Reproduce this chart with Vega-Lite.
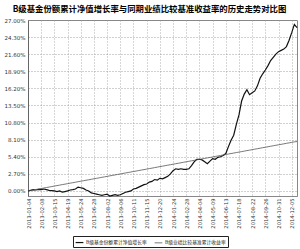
{
  "$schema": "https://vega.github.io/schema/vega-lite/v6.json",
  "width": 269,
  "height": 176,
  "autosize": {"type": "none"},
  "padding": {"left": 28, "top": 20, "right": 3, "bottom": 53},
  "background": "white",
  "title": {
    "text": "B级基金份额累计净值增长率与同期业绩比较基准收益率的历史走势对比图",
    "font": "Noto Sans CJK SC",
    "fontSize": 8.4,
    "fontWeight": "bold",
    "color": "#000",
    "anchor": "middle",
    "frame": "group",
    "dx": -13,
    "offset": 5
  },
  "config": {
    "view": {"stroke": "#888", "strokeWidth": 1},
    "axis": {"labelFont": "DejaVu Sans", "labelColor": "#333", "domainColor": "#666"}
  },
  "data": {
    "values": [
      {"d":"2013-01-04","fund":0.0,"bench":0.0},
      {"d":"2013-01-11","fund":0.1,"bench":0.08},
      {"d":"2013-01-18","fund":0.2,"bench":0.15},
      {"d":"2013-01-25","fund":0.15,"bench":0.23},
      {"d":"2013-02-01","fund":0.25,"bench":0.31},
      {"d":"2013-02-08","fund":0.2,"bench":0.38},
      {"d":"2013-02-15","fund":0.3,"bench":0.46},
      {"d":"2013-02-22","fund":0.2,"bench":0.54},
      {"d":"2013-03-01","fund":0.1,"bench":0.61},
      {"d":"2013-03-08","fund":0.05,"bench":0.69},
      {"d":"2013-03-15","fund":0.0,"bench":0.77},
      {"d":"2013-03-22","fund":-0.1,"bench":0.84},
      {"d":"2013-03-29","fund":0.0,"bench":0.92},
      {"d":"2013-04-05","fund":-0.2,"bench":1.0},
      {"d":"2013-04-12","fund":-0.1,"bench":1.07},
      {"d":"2013-04-19","fund":0.0,"bench":1.15},
      {"d":"2013-04-26","fund":0.15,"bench":1.23},
      {"d":"2013-05-03","fund":0.2,"bench":1.3},
      {"d":"2013-05-10","fund":0.3,"bench":1.38},
      {"d":"2013-05-17","fund":0.6,"bench":1.46},
      {"d":"2013-05-24","fund":0.5,"bench":1.53},
      {"d":"2013-05-31","fund":0.4,"bench":1.61},
      {"d":"2013-06-07","fund":0.15,"bench":1.69},
      {"d":"2013-06-14","fund":0.0,"bench":1.76},
      {"d":"2013-06-21","fund":-0.3,"bench":1.84},
      {"d":"2013-06-28","fund":-0.4,"bench":1.92},
      {"d":"2013-07-05","fund":-0.5,"bench":1.99},
      {"d":"2013-07-12","fund":-0.6,"bench":2.07},
      {"d":"2013-07-19","fund":-0.7,"bench":2.15},
      {"d":"2013-07-26","fund":-0.6,"bench":2.22},
      {"d":"2013-08-02","fund":-0.5,"bench":2.3},
      {"d":"2013-08-09","fund":-0.8,"bench":2.38},
      {"d":"2013-08-16","fund":-0.7,"bench":2.45},
      {"d":"2013-08-23","fund":-0.6,"bench":2.53},
      {"d":"2013-08-30","fund":-0.7,"bench":2.61},
      {"d":"2013-09-06","fund":-0.6,"bench":2.68},
      {"d":"2013-09-13","fund":-0.4,"bench":2.76},
      {"d":"2013-09-20","fund":-0.2,"bench":2.84},
      {"d":"2013-09-27","fund":-0.1,"bench":2.91},
      {"d":"2013-10-04","fund":0.0,"bench":2.99},
      {"d":"2013-10-11","fund":0.3,"bench":3.07},
      {"d":"2013-10-18","fund":0.4,"bench":3.14},
      {"d":"2013-10-25","fund":0.6,"bench":3.22},
      {"d":"2013-11-01","fund":0.8,"bench":3.3},
      {"d":"2013-11-08","fund":1.0,"bench":3.37},
      {"d":"2013-11-15","fund":1.1,"bench":3.45},
      {"d":"2013-11-22","fund":1.4,"bench":3.53},
      {"d":"2013-11-29","fund":1.5,"bench":3.6},
      {"d":"2013-12-06","fund":1.8,"bench":3.68},
      {"d":"2013-12-13","fund":1.7,"bench":3.76},
      {"d":"2013-12-20","fund":2.0,"bench":3.84},
      {"d":"2013-12-27","fund":1.9,"bench":3.91},
      {"d":"2014-01-03","fund":2.1,"bench":3.99},
      {"d":"2014-01-10","fund":2.3,"bench":4.07},
      {"d":"2014-01-17","fund":2.7,"bench":4.14},
      {"d":"2014-01-24","fund":3.2,"bench":4.22},
      {"d":"2014-01-31","fund":3.5,"bench":4.3},
      {"d":"2014-02-07","fund":3.4,"bench":4.37},
      {"d":"2014-02-14","fund":3.5,"bench":4.45},
      {"d":"2014-02-21","fund":3.4,"bench":4.53},
      {"d":"2014-02-28","fund":3.4,"bench":4.6},
      {"d":"2014-03-07","fund":3.5,"bench":4.68},
      {"d":"2014-03-14","fund":4.0,"bench":4.76},
      {"d":"2014-03-21","fund":4.6,"bench":4.83},
      {"d":"2014-03-28","fund":5.0,"bench":4.91},
      {"d":"2014-04-04","fund":5.0,"bench":4.99},
      {"d":"2014-04-11","fund":4.9,"bench":5.06},
      {"d":"2014-04-18","fund":4.6,"bench":5.14},
      {"d":"2014-04-25","fund":4.3,"bench":5.22},
      {"d":"2014-05-02","fund":4.7,"bench":5.29},
      {"d":"2014-05-09","fund":5.1,"bench":5.37},
      {"d":"2014-05-16","fund":5.0,"bench":5.45},
      {"d":"2014-05-23","fund":5.3,"bench":5.52},
      {"d":"2014-05-30","fund":5.4,"bench":5.6},
      {"d":"2014-06-06","fund":5.6,"bench":5.68},
      {"d":"2014-06-13","fund":5.9,"bench":5.75},
      {"d":"2014-06-20","fund":7.0,"bench":5.83},
      {"d":"2014-06-27","fund":8.0,"bench":5.91},
      {"d":"2014-07-04","fund":8.8,"bench":5.98},
      {"d":"2014-07-11","fund":10.5,"bench":6.06},
      {"d":"2014-07-18","fund":12.0,"bench":6.14},
      {"d":"2014-07-25","fund":14.2,"bench":6.21},
      {"d":"2014-08-01","fund":15.3,"bench":6.29},
      {"d":"2014-08-08","fund":16.0,"bench":6.37},
      {"d":"2014-08-15","fund":15.2,"bench":6.44},
      {"d":"2014-08-22","fund":15.5,"bench":6.52},
      {"d":"2014-08-29","fund":15.8,"bench":6.6},
      {"d":"2014-09-05","fund":16.6,"bench":6.67},
      {"d":"2014-09-12","fund":17.8,"bench":6.75},
      {"d":"2014-09-19","fund":18.5,"bench":6.83},
      {"d":"2014-09-26","fund":19.1,"bench":6.9},
      {"d":"2014-10-03","fund":19.8,"bench":6.98},
      {"d":"2014-10-10","fund":20.6,"bench":7.06},
      {"d":"2014-10-17","fund":21.1,"bench":7.13},
      {"d":"2014-10-24","fund":21.6,"bench":7.21},
      {"d":"2014-10-31","fund":22.0,"bench":7.29},
      {"d":"2014-11-07","fund":22.2,"bench":7.36},
      {"d":"2014-11-14","fund":22.4,"bench":7.44},
      {"d":"2014-11-21","fund":22.8,"bench":7.52},
      {"d":"2014-11-28","fund":23.8,"bench":7.59},
      {"d":"2014-12-05","fund":25.0,"bench":7.67},
      {"d":"2014-12-12","fund":26.3,"bench":7.75},
      {"d":"2014-12-17","fund":25.8,"bench":7.8}
    ]
  },
  "transform": [{"fold": ["fund", "bench"], "as": ["k", "v"]}],
  "mark": {"type": "line", "interpolate": "linear"},
  "encoding": {
    "x": {
      "field": "d",
      "type": "ordinal",
      "sort": "ascending",
      "scale": {"type": "point", "padding": 0},
      "axis": {
        "title": null,
        "values": ["2013-01-04","2013-02-08","2013-03-15","2013-04-19","2013-05-24","2013-06-28","2013-08-02","2013-09-06","2013-10-11","2013-11-15","2013-12-20","2014-01-24","2014-02-28","2014-04-04","2014-05-09","2014-06-13","2014-07-18","2014-08-22","2014-09-26","2014-10-31","2014-12-05"],
        "labelAngle": -90,
        "labelFontSize": 5.2,
        "labelPadding": 2,
        "ticks": false,
        "domainColor": "#888",
        "grid": true,
        "gridColor": "#999",
        "gridDash": [1, 2],
        "gridWidth": 0.8
      }
    },
    "y": {
      "field": "v",
      "type": "quantitative",
      "scale": {"domain": [-0.8, 27], "nice": false, "zero": false},
      "axis": {
        "title": null,
        "values": [0, 2.7, 5.4, 8.1, 10.8, 13.5, 16.2, 18.9, 21.6, 24.3, 27],
        "labelExpr": "format(datum.value, '.2f') + '%'",
        "labelFontSize": 5.5,
        "labelPadding": 3,
        "ticks": false,
        "domainColor": "#666",
        "grid": true,
        "gridColor": "#888",
        "gridDash": [1, 2],
        "gridWidth": 0.8
      }
    },
    "color": {
      "field": "k",
      "type": "nominal",
      "scale": {"domain": ["fund", "bench"], "range": ["#111111", "#555555"]},
      "legend": {
        "title": null,
        "orient": "none",
        "legendX": 45,
        "legendY": 216,
        "direction": "horizontal",
        "symbolType": "stroke",
        "symbolSize": 60,
        "symbolStrokeWidth": 1.2,
        "labelExpr": "datum.value == 'fund' ? 'B级基金份额累计净值增长率' : 'B级业绩比较基准累计收益率'",
        "labelFont": "Noto Sans CJK SC",
        "labelFontSize": 4.8,
        "labelColor": "#222",
        "columnPadding": 6,
        "padding": 2,
        "strokeColor": "#222",
        "labelOffset": 2
      }
    },
    "strokeWidth": {
      "field": "k",
      "type": "nominal",
      "scale": {"domain": ["fund", "bench"], "range": [1.2, 0.8]},
      "legend": null
    }
  }
}
